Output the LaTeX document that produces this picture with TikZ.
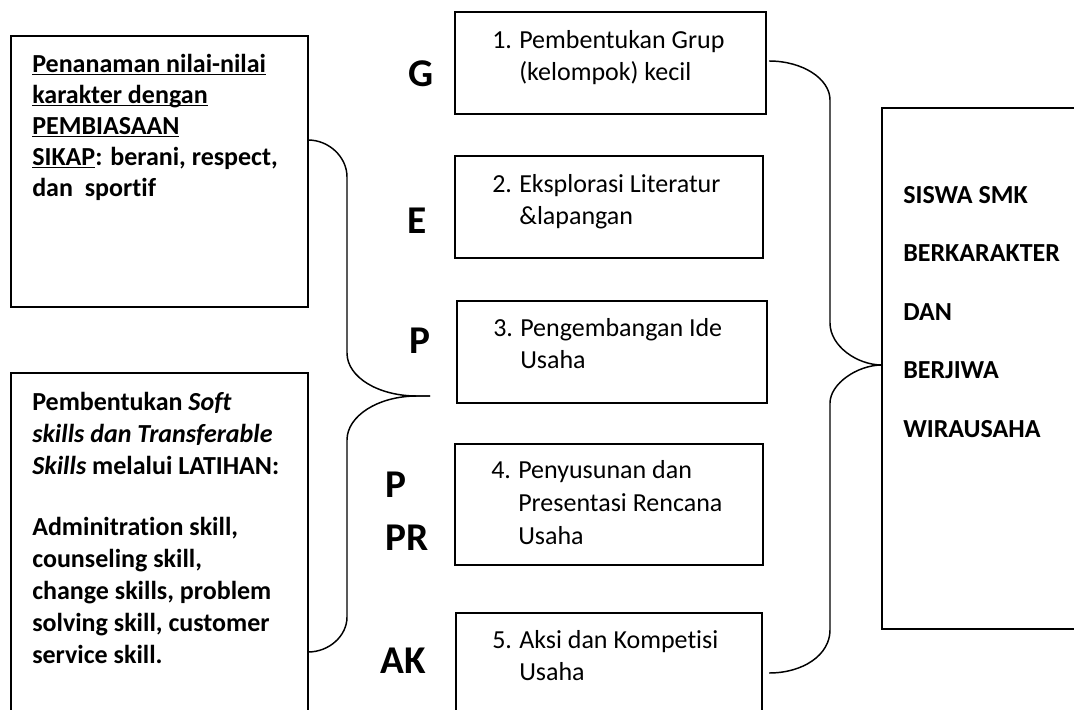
\documentclass[tikz,border=0pt]{standalone}
\usepackage{fontspec}
\setmainfont{Carlito}[Ligatures=NoCommon]
\usetikzlibrary{calc}
\newcommand\ulmine[1]{\underline{\raisebox{0pt}[\height][0pt]{#1}}}
\def\px{*0.75pt}
\begin{document}
\begin{tikzpicture}[x=0.75pt,y=-0.75pt,
  box/.style={draw=black,line width=1.5pt,inner sep=0pt,outer sep=0pt,anchor=north west},
  brace/.style={draw=black,line width=1.1pt},
  txt/.style={anchor=north west,inner sep=0pt,align=left},
  boldtxt/.style={txt,font=\fontsize{19.5}{23.25}\selectfont\bfseries},
  midtxt/.style={txt,font=\fontsize{19.5}{24}\selectfont},
  letter/.style={anchor=base,inner sep=0pt,font=\fontsize{29.5}{40}\selectfont\bfseries}]
\useasboundingbox (0,0) rectangle (1074,710);
\clip (0,0) rectangle (1074,710);

% boxes
\node[box,minimum width=297\px,minimum height=271\px] (lA) at (11,36) {};
\node[box,minimum width=297\px,minimum height=357\px] (lB) at (11,373) {};
\node[box,minimum width=311\px,minimum height=102\px] (b1) at (455,12) {};
\node[box,minimum width=308\px,minimum height=102\px] (b2) at (455,156) {};
\node[box,minimum width=310\px,minimum height=102\px] (b3) at (457,301) {};
\node[box,minimum width=308\px,minimum height=121\px] (b4) at (455,444) {};
\node[box,minimum width=306\px,minimum height=117\px] (b5) at (456,613) {};
\node[box,minimum width=208\px,minimum height=521\px] (R) at (882,108) {};

% texts
\node[boldtxt] (tA) at (32,54) {\ulmine{Penanaman nilai-nilai}\\
  \ulmine{karakter dengan}\\
  \ulmine{PEMBIASAAN}\\
  \ulmine{SIKAP}: berani, respect,\\
  dan\ \ sportif};
\node[boldtxt,font=\fontsize{19.5}{24}\selectfont\bfseries] (tB) at (32,392) {Pembentukan \textit{Soft}\\
  \textit{skills dan Transferable}\\
  \textit{Skills} melalui LATIHAN:\\[21.75pt]
  Adminitration skill,\\
  counseling skill,\\
  change skills, problem\\
  solving skill, customer\\
  service skill.};

\node[midtxt] (m1) at (492,30) {\makebox[20.25pt][l]{1.}Pembentukan Grup\\\hspace*{20.25pt}(kelompok) kecil};
\node[midtxt] (m2) at (492,174) {\makebox[20.25pt][l]{2.}Eksplorasi Literatur\\\hspace*{20.25pt}\&lapangan};
\node[midtxt] (m3) at (493,318) {\makebox[20.25pt][l]{3.}Pengembangan Ide\\\hspace*{20.25pt}Usaha};
\node[midtxt,font=\fontsize{19.5}{24.75}\selectfont] (m4) at (491,460) {\makebox[20.25pt][l]{4.}Penyusunan dan\\\hspace*{20.25pt}Presentasi Rencana\\\hspace*{20.25pt}Usaha};
\node[midtxt] (m5) at (492,630) {\makebox[20.25pt][l]{5.}Aksi dan Kompetisi\\\hspace*{20.25pt}Usaha};

\node[txt,font=\fontsize{19.5}{43.9}\selectfont\bfseries] (tR) at (903,186) {SISWA SMK\\BERKARAKTER\\DAN\\BERJIWA\\WIRAUSAHA};

% letters
\node[letter] (lG) at (421,87) {G};
\node[letter] (lE) at (417,233) {E};
\node[letter] (lP) at (420,353) {P};
\node[letter,anchor=base west] (lP2) at (385,497) {P};
\node[letter,anchor=base west] (lPR) at (385,550) {PR};
\node[letter] (lAK) at (403,673) {AK};

% braces
\coordinate (ltip) at (430,396);
\coordinate (rtip) at ($(R.north west)+(0,257)$);
\draw[brace] ($(lA.north east)+(0,104)$) .. controls (329,140) and (347,157) .. (347,177)
  -- (347,353) .. controls (347,377) and (378,396) .. (417,396) -- (ltip);
\draw[brace] (ltip) -- (417,396) .. controls (378,396) and (347,416) .. (347,440)
  -- (347,617) .. controls (347,636) and (329,652) .. ($(lB.north east)+(0,279)$);
\draw[brace] ($(b1.east)+(3,-2)$) .. controls (803,61) and (830,79) .. (830,100)
  -- (830,323) .. controls (830,346) and (857,365) .. (rtip);
\draw[brace] (rtip) .. controls (857,365) and (830,384) .. (830,403)
  -- (830,630) .. controls (830,655) and (803,673) .. ($(b5.north east)+(7,60)$);
\end{tikzpicture}
\end{document}
